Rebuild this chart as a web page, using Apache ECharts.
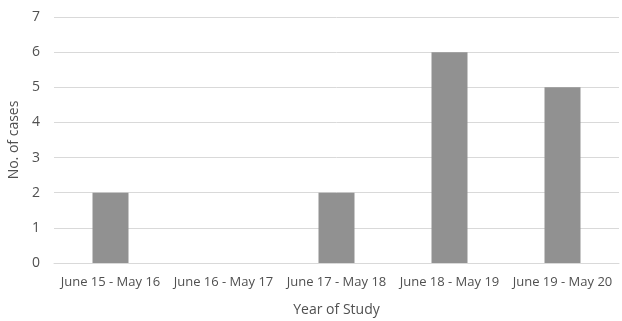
<!DOCTYPE html>
<html>
<head>
<meta charset="utf-8">
<script src="https://cdn.jsdelivr.net/npm/echarts@6/dist/echarts.min.js"></script>
<style>
  html, body { margin: 0; padding: 0; background: #fff; }
  #chart { width: 622px; height: 321px; }
</style>
</head>
<body>
<div id="chart"></div>
<script>
// Study periods and number of cases per period
const categories = ['June 15 - May 16', 'June 16 - May 17', 'June 17 - May 18', 'June 18 - May 19', 'June 19 - May 20'];
const cases = [2, 0, 2, 6, 5];
const yTicks = [0, 1, 2, 3, 4, 5, 6, 7];

const textColor = '#505050';
const fontFamily = 'Open Sans, Noto Sans, sans-serif';

const chart = echarts.init(document.getElementById('chart'), null, { renderer: 'canvas' });
chart.setOption({
  animation: false,
  backgroundColor: '#fff',
  grid: { left: 54, right: 3, top: 17, bottom: 58, containLabel: false, outerBoundsMode: 'none' },
  xAxis: {
    type: 'category',
    data: categories,
    name: 'Year of Study',
    nameLocation: 'middle',
    nameGap: 40,
    nameTextStyle: { color: textColor, fontSize: 14, fontFamily },
    axisLine: { lineStyle: { color: '#d9d9d9', width: 1 } },
    axisTick: { show: false },
    axisLabel: { color: textColor, fontSize: 13, fontFamily, margin: 13, interval: 0 }
  },
  yAxis: {
    type: 'value',
    min: yTicks[0],
    max: yTicks[yTicks.length - 1],
    interval: 1,
    name: 'No. of cases',
    nameLocation: 'middle',
    nameGap: 21,
    nameTextStyle: { color: textColor, fontSize: 14, fontFamily },
    axisLine: { show: false },
    axisTick: { show: false },
    axisLabel: { color: textColor, fontSize: 14, fontFamily, margin: 14 },
    splitLine: { lineStyle: { color: '#d9d9d9', width: 1 } }
  },
  series: [{
    type: 'bar',
    data: cases,
    barWidth: 36,
    itemStyle: { color: '#919191' }
  }]
});
</script>
</body>
</html>
